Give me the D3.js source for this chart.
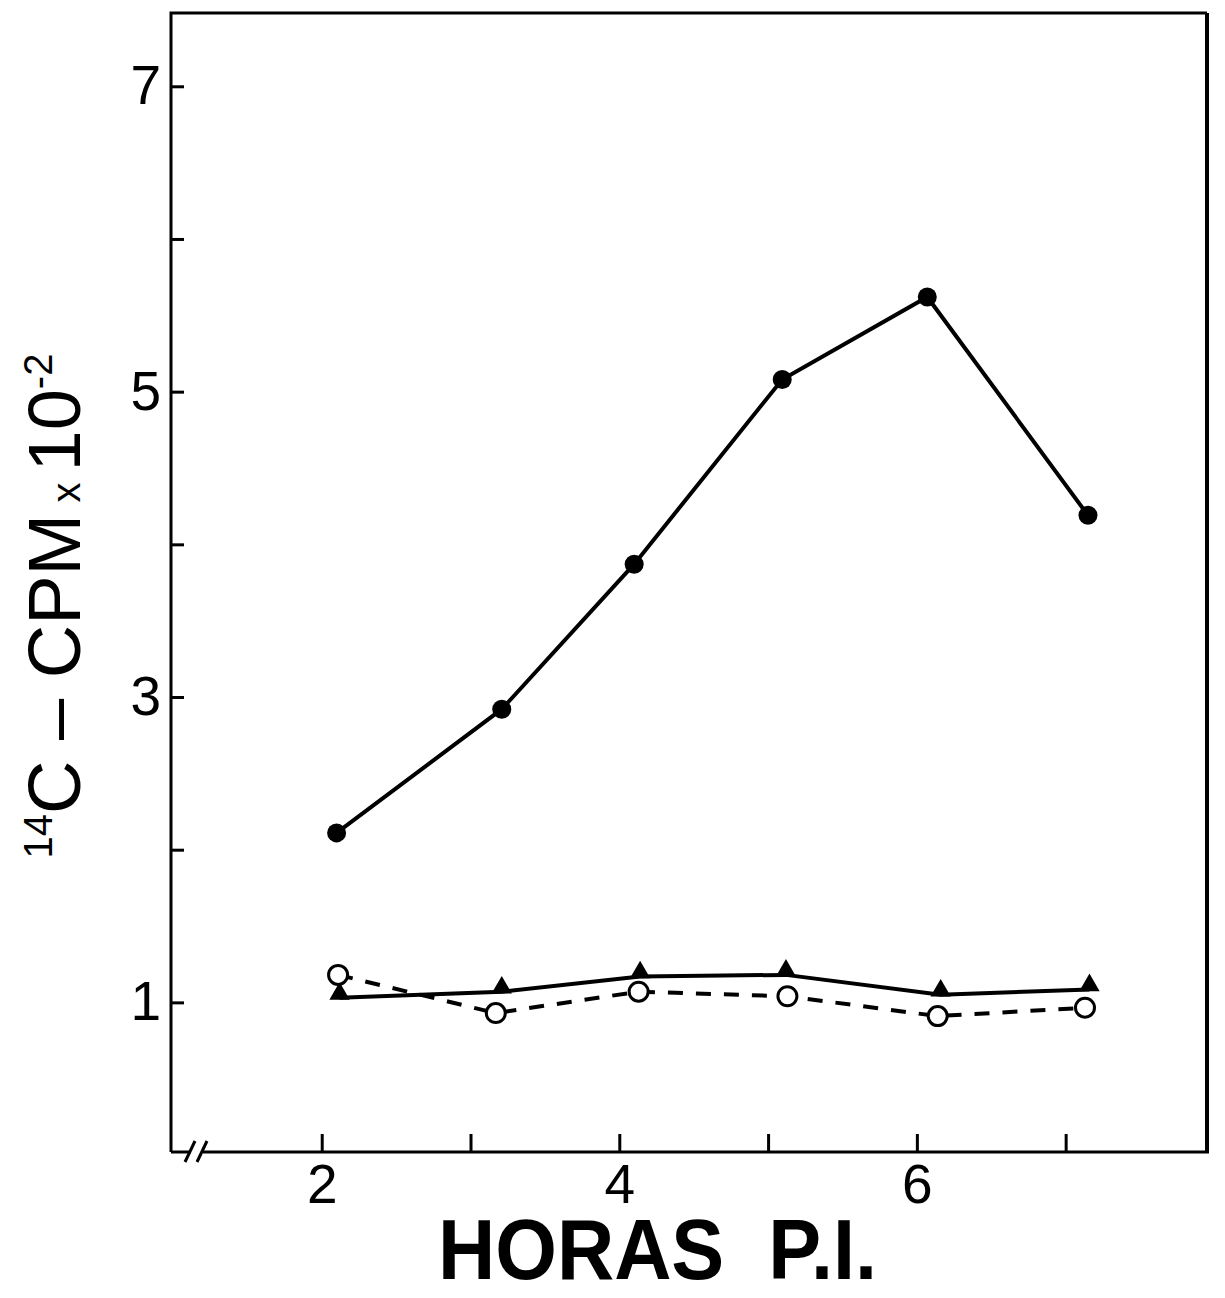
<!DOCTYPE html>
<html>
<head>
<meta charset="utf-8">
<script src="https://cdn.jsdelivr.net/npm/d3@7"></script>
<style>
  body { margin: 0; background: #fff; }
  svg { display: block; font-family: "Liberation Sans", Arial, sans-serif; }
  .tick text { font-size: 55px; fill: #000; }
  .tick line { stroke: #000; stroke-width: 3; }
</style>
</head>
<body>
<div class="wrapper"></div>
<script>
// filled circles (solid line)
var circleX = [2.1, 3.21, 4.1, 5.095, 6.07, 7.15];
var circleY = [2.11, 2.92, 3.87, 5.08, 5.62, 4.19];
// filled triangles (solid line)
var triangleX = [2.12, 3.21, 4.14, 5.12, 6.16, 7.16];
var triangleY = [1.03, 1.07, 1.17, 1.18, 1.05, 1.085];
// open circles (dashed line)
var openX = [2.11, 3.17, 4.13, 5.13, 6.14, 7.13];
var openY = [1.18, 0.93, 1.07, 1.04, 0.91, 0.965];

var xTicks = [2, 3, 4, 5, 6, 7];
var xTickLabels = ["2", "", "4", "", "6", ""];
var yTicks = [1, 2, 3, 4, 5, 6, 7];
var yTickLabels = ["1", "", "3", "", "5", "", "7"];

var width = 1225,
  height = 1298;
var plot = { left: 171, right: 1207, top: 13, bottom: 1152 };

var svg = d3
  .select(".wrapper")
  .append("svg")
  .attr("width", width)
  .attr("height", height);

var x = d3.scaleLinear().domain([0.987, 7.95]).range([plot.left, plot.right]);
var y = d3.scaleLinear().domain([0.02, 7.48]).range([plot.bottom, plot.top]);

function zip(xs, ys) {
  return xs.map((v, i) => ({ x: v, y: ys[i] }));
}

// axes, ticks point inward
svg
  .append("g")
  .attr("transform", `translate(0,${plot.bottom})`)
  .call(
    d3
      .axisBottom(x)
      .tickValues(xTicks)
      .tickSizeInner(-18)
      .tickSizeOuter(0)
      .tickPadding(12)
      .tickFormat((d, i) => xTickLabels[i])
  )
  .call(g => g.select(".domain").remove());

svg
  .append("g")
  .attr("transform", `translate(${plot.left},0)`)
  .call(
    d3
      .axisLeft(y)
      .tickValues(yTicks)
      .tickSizeInner(-13)
      .tickSizeOuter(0)
      .tickPadding(10)
      .tickFormat((d, i) => yTickLabels[i])
  )
  .call(g => g.select(".domain").remove());

svg.selectAll(".tick text").attr("font-family", null).attr("font-size", null);

// frame with broken x axis
var frame = svg.append("g").attr("stroke", "#000").attr("fill", "none");
frame
  .append("path")
  .attr("stroke-width", 3)
  .attr("d", `M${plot.left},${plot.bottom}V${plot.top}H${plot.right}`);
frame
  .append("path")
  .attr("stroke-width", 4)
  .attr("d", `M${plot.right},${plot.top}V${plot.bottom}`);
frame
  .append("path")
  .attr("stroke-width", 3)
  .attr("d", `M${plot.left},${plot.bottom}H191M203,${plot.bottom}H${plot.right + 2}`);
frame
  .append("path")
  .attr("stroke-width", 3)
  .attr("d", `M185,${plot.bottom + 10}L195,${plot.bottom - 11}M197,${plot.bottom + 10}L207,${plot.bottom - 11}`);

var line = d3
  .line()
  .x(d => x(d.x))
  .y(d => y(d.y));

var series = svg.append("g");

series
  .append("path")
  .datum(zip(openX, openY))
  .attr("d", line)
  .attr("fill", "none")
  .attr("stroke", "#000")
  .attr("stroke-width", 4)
  .attr("stroke-dasharray", "15,13");

series
  .append("path")
  .datum(zip(triangleX, triangleY))
  .attr("d", line)
  .attr("fill", "none")
  .attr("stroke", "#000")
  .attr("stroke-width", 4);

series
  .append("path")
  .datum(zip(circleX, circleY))
  .attr("d", line)
  .attr("fill", "none")
  .attr("stroke", "#000")
  .attr("stroke-width", 4);

var tri = d3.symbol().type(d3.symbolTriangle).size(180);
series
  .selectAll(".tri")
  .data(zip(triangleX, triangleY))
  .enter()
  .append("path")
  .attr("class", "tri")
  .attr("d", tri)
  .attr("transform", d => `translate(${x(d.x)},${y(d.y) - 4})`)
  .attr("fill", "#000");

series
  .selectAll(".open")
  .data(zip(openX, openY))
  .enter()
  .append("circle")
  .attr("class", "open")
  .attr("cx", d => x(d.x))
  .attr("cy", d => y(d.y))
  .attr("r", 9.5)
  .attr("fill", "#fff")
  .attr("stroke", "#000")
  .attr("stroke-width", 3);

series
  .selectAll(".dot")
  .data(zip(circleX, circleY))
  .enter()
  .append("circle")
  .attr("class", "dot")
  .attr("cx", d => x(d.x))
  .attr("cy", d => y(d.y))
  .attr("r", 9.5)
  .attr("fill", "#000");

// axis titles
svg
  .append("text")
  .attr("x", 438)
  .attr("y", 1279)
  .attr("font-size", 85)
  .attr("font-weight", "bold")
  .attr("textLength", 439)
  .attr("lengthAdjust", "spacingAndGlyphs")
  .text("HORAS\u00a0\u00a0P.I.");

var yTitle = svg
  .append("text")
  .attr("transform", "translate(80,606) rotate(-90)")
  .attr("text-anchor", "middle")
  .attr("font-size", 74);
yTitle.append("tspan").attr("font-size", 40).attr("dy", -28).text("14");
yTitle.append("tspan").attr("dy", 28).text("C – CPM");
yTitle.append("tspan").attr("font-size", 40).text(" x ");
yTitle.append("tspan").text("10");
yTitle.append("tspan").attr("font-size", 40).attr("dy", -28).text("-2");
</script>
</body>
</html>
